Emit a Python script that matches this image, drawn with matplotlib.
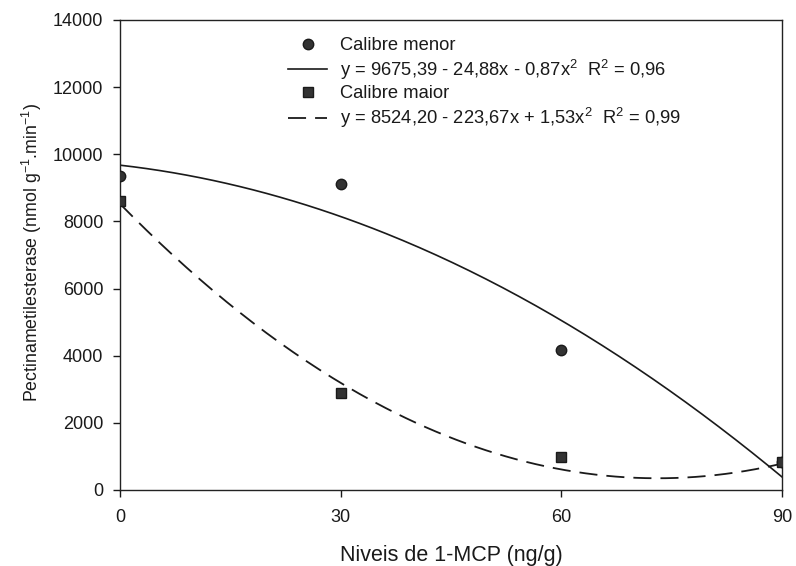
import numpy as np
import matplotlib
matplotlib.use("Agg")
import matplotlib.pyplot as plt

plt.rcParams['font.family'] = ['Liberation Sans', 'DejaVu Sans']
plt.rcParams['mathtext.fontset'] = 'custom'
plt.rcParams['mathtext.rm'] = 'Liberation Sans'
plt.rcParams['mathtext.it'] = 'Liberation Sans:italic'

# Data
doses = [0, 30, 60, 90]
menor = [9350, 9120, 4180, 820]
maior = [8600, 2900, 990, 830]
coef_menor = [9675.39, -24.88, -0.87]
coef_maior = [8524.20, -223.67, 1.53]
xticks = [0, 30, 60, 90]
yticks = [0, 2000, 4000, 6000, 8000, 10000, 12000, 14000]
labels = ['Calibre menor',
          'y = 9675,39 - 24,88x - 0,87x$^2$  R$^2$ = 0,96',
          'Calibre maior',
          'y = 8524,20 - 223,67x + 1,53x$^2$  R$^2$ = 0,99']

W, H = 796, 566
fig = plt.figure(figsize=(W / 100, H / 100), dpi=100)
L, R, T, B = 120, 782, 20, 490
ax = fig.add_axes([L / W, (H - B) / H, (R - L) / W, (B - T) / H])

xs = np.linspace(0, 90, 200)
fit_menor = coef_menor[0] + coef_menor[1] * xs + coef_menor[2] * xs ** 2
fit_maior = coef_maior[0] + coef_maior[1] * xs + coef_maior[2] * xs ** 2

c = '#1a1a1a'
h1, = ax.plot(doses, menor, 'o', ms=7.5, color='#333333', mec=c, mew=1, ls='none', zorder=3)
h2, = ax.plot(xs, fit_menor, '-', color=c, lw=1.2)
h3, = ax.plot(doses, maior, 's', ms=7, color='#333333', mec=c, mew=1, ls='none', zorder=3)
h4, = ax.plot(xs, fit_maior, '--', color=c, lw=1.3, dashes=(10, 5))

leg = fig.legend([h1, h2, h3, h4], labels,
                 loc='upper left', bbox_to_anchor=(288 / W, (H - 37) / H),
                 frameon=False, fontsize=13.2, handlelength=2.15, handletextpad=0.7,
                 labelspacing=0.2, borderaxespad=0, borderpad=0, numpoints=1)
for t in leg.get_texts():
    t.set_color(c)

ax.set_xlim(0, 90)
ax.set_ylim(0, 14000)
ax.set_xticks(xticks)
ax.set_yticks(yticks)
ax.tick_params(axis='both', direction='out', length=5, width=1, labelsize=13, colors=c)
ax.tick_params(axis='y', pad=7)
ax.tick_params(axis='x', pad=9)
for s in ax.spines.values():
    s.set_linewidth(1.0)
    s.set_color('#222222')

fig.text((L + R) / 2 / W, (H - 555) / H, 'Niveis de 1-MCP (ng/g)', fontsize=15.5,
         color=c, ha='center', va='center')
fig.text(32 / W, (H - (T + B) / 2 + 2) / H,
         'Pectinametilesterase (nmol g$^{-1}$.min$^{-1}$)', fontsize=12.8,
         color=c, ha='center', va='center', rotation=90)

fig.savefig('out.png', dpi=100)
